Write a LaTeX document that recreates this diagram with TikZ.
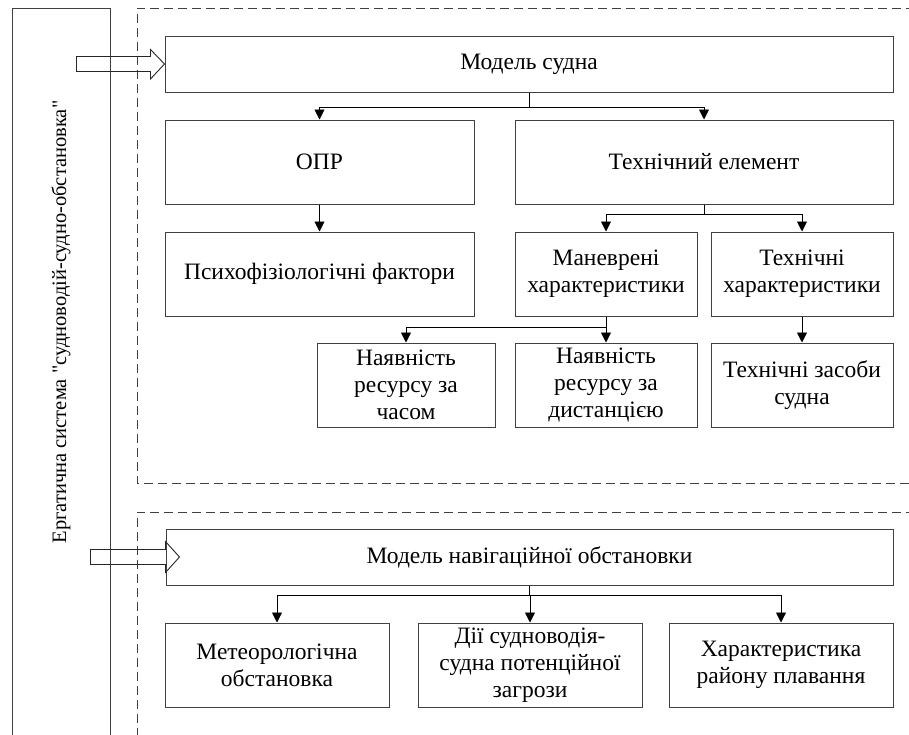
\documentclass[tikz,border=0pt]{standalone}
\usepackage{fontspec}
\setmainfont{Liberation Serif}[Ligatures=TeXOff]
\usetikzlibrary{arrows.meta,calc}
\begin{document}
\begin{tikzpicture}[x=1pt,y=-1pt,
  txt/.style={font=\fontsize{23.5}{27}\selectfont},
  box/.style={draw=black!75, line width=1pt, inner sep=0pt, align=center, txt},
  conn/.style={draw=black, line width=0.9pt},
  arr/.style={conn, -{Triangle[length=10pt,width=10pt]}},
  dashbox/.style={draw=black!75, line width=1pt, dash pattern=on 9pt off 5pt},
  blockarrow/.style={draw=black!85, line width=0.9pt, line join=miter}]
\useasboundingbox (0,0) rectangle (909,734);
\begin{scope}
\clip (0,0) rectangle (909,734);
% left bar
\draw[draw=black!75, line width=1pt] (12,740) -- (12,8) -- (110,8) -- (110,740);
\node[font=\fontsize{20.5}{24}\selectfont, rotate=90] (title) at (61,322) {Ергатична система "судноводій-судно-обстановка"};
% dashed frames
\draw[dashbox] (915,8) -- (137,8) -- (137,483) -- (915,483);
\draw[dashbox] (915,512) -- (137,512) -- (137,740);
\end{scope}

% boxes
\node[box, minimum width=728, minimum height=56] (m1) at (529,64) {Модель судна};
\node[box, minimum width=309, minimum height=84] (opr) at (319.5,162) {ОПР};
\node[box, minimum width=378, minimum height=84] (tech) at (704,162) {Технічний елемент};
\node[box, minimum width=309, minimum height=84] (psy) at (319.5,274) {Психофізіологічні фактори};
\node[box, minimum width=182, minimum height=84] (man) at (606,274) {Маневрені\\характеристики};
\node[box, minimum width=182, minimum height=84] (tch) at (802,274) {Технічні\\характеристики};
\node[box, minimum width=178, minimum height=84] (r1) at (406,385) {Наявність\\ресурсу за\\часом};
\node[box, minimum width=182, minimum height=84] (r2) at (606,385) {Наявність\\ресурсу за\\дистанцією};
\node[box, minimum width=182, minimum height=84] (r3) at (802,385) {Технічні засоби\\судна};
\node[box, minimum width=727, minimum height=56] (m2) at (529.5,557) {Модель навігаційної обстановки};
\node[box, minimum width=224, minimum height=84] (b1) at (277,665) {Метеорологічна\\обстановка};
\node[box, minimum width=224, minimum height=84] (b2) at (530,665) {Дії судноводія-\\судна потенційної\\загрози};
\node[box, minimum width=224, minimum height=84] (b3) at (781,665) {Характеристика\\району плавання};

% block arrows
\coordinate (t1) at (m1.west);
\draw[blockarrow] ($(t1)+(-88,-7.5)$) -- ++(74,0) -- ++(0,-7) -- (t1) -- ++(-14,15) -- ++(0,-7.5) -- ++(-74,0) -- cycle;
\coordinate (t2) at ($(m2.west)+(14,0)$);
\draw[blockarrow] ($(t2)+(-89,-7.5)$) -- ++(75,0) -- ++(0,-8) -- (t2) -- ++(-14,15.5) -- ++(0,-8) -- ++(-75,0) -- cycle;

% connectors
\coordinate (j1) at ($(m1.south)+(0,15)$);
\draw[conn] (m1.south) -- (j1);
\draw[arr] (j1) -| (opr.north);
\draw[arr] (j1) -| (tech.north);

\draw[arr] (opr.south) -- (psy.north);

\coordinate (j2) at ($(tech.south)+(0,10)$);
\draw[conn] (tech.south) -- (j2);
\draw[arr] (j2) -| (man.north);
\draw[arr] (j2) -| (tch.north);

\coordinate (j3) at ($(man.south)+(0,11)$);
\draw[conn] (man.south) -- (j3);
\draw[arr] (j3) -| (r1.north);
\draw[arr] (j3) -- (r2.north);

\draw[arr] (tch.south) -- (r3.north);

\coordinate (j4) at ($(m2.south)+(0,10)$);
\draw[conn] (m2.south) -- (j4);
\draw[arr] (j4) -| (b1.north);
\draw[arr] (j4) -| (b2.north);
\draw[arr] (j4) -| (b3.north);
\end{tikzpicture}
\end{document}
